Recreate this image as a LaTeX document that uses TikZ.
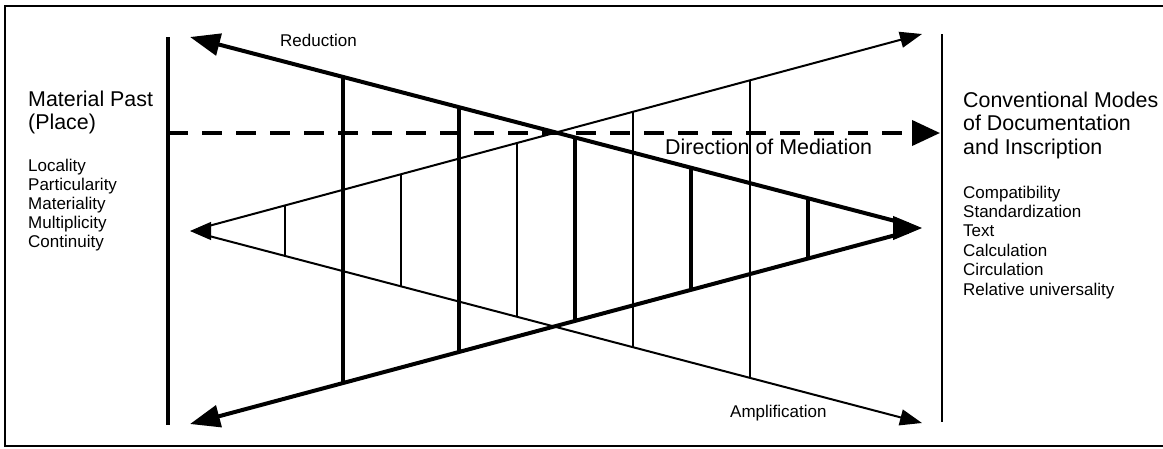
\documentclass[tikz,border=0pt]{standalone}
\usepackage{fontspec}
\setmainfont{Liberation Sans}
\usetikzlibrary{arrows.meta,calc}
\tikzset{
  frameline/.style={line width=2.4pt},
  thickline/.style={line width=4pt},
  thinline/.style={line width=2pt},
  bigtip/.style={-{Triangle[length=30pt,width=22pt]}},
  smalltip/.style={-{Triangle[length=22pt,width=16pt]}},
  dashline/.style={line width=4pt,dash pattern=on 20pt off 14pt},
  bigtext/.style={anchor=base west,inner sep=0pt,font=\fontsize{21.4}{23.5}\selectfont},
  listtext/.style={anchor=base west,inner sep=0pt,font=\fontsize{17}{19.3}\selectfont}
}
\begin{document}
\begin{tikzpicture}[x=1pt,y=-1pt]
\useasboundingbox (0,0) rectangle (1163,448);
% frame
\draw[frameline] (1163,6) -- (5,6) -- (5,446) -- (1163,446);
% key points
\coordinate (L1) at (190,37);
\coordinate (L2) at (190,424);
\coordinate (R0) at (922,228);
\coordinate (T0) at (190,231);
\coordinate (R1) at (922,34);
\coordinate (R2) at (922,423);
% side bars
\coordinate (lbTop) at (168,37);
\coordinate (lbBot) at (168,425);
\coordinate (rbTop) at (942,34);
\coordinate (rbBot) at (942,422);
\draw[line width=3.5pt] (lbTop) -- (lbBot);
\draw[line width=2pt] (rbTop) -- (rbBot);
% dashed direction of mediation
\coordinate (dS) at (168,133);
\coordinate (dE) at (940,133);
\draw[dashline] (dS) -- ($(dE)+(-20,0)$);
\coordinate (dH) at ($(dE)+(-24,0)$);
\draw[line width=4pt,-{Triangle[length=28pt,width=25pt]}] (dH) -- (dE);
% thick converging lines (reduction / amplification)
\draw[thickline,bigtip,shorten <=14pt] (R0) -- (L1);
\draw[thickline,bigtip,shorten <=14pt] (R0) -- (L2);
\coordinate (R0h) at ($(R0)+(-20,0)$);
\draw[line width=1pt,-{Triangle[length=29pt,width=24pt]}] (R0h) -- (R0);
% thin converging lines
\draw[thinline,smalltip,shorten <=10pt] (T0) -- (R1);
\draw[thinline,smalltip,shorten <=10pt] (T0) -- (R2);
\coordinate (T0h) at ($(T0)+(14,0)$);
\draw[line width=1pt,-{Triangle[length=21pt,width=18pt]}] (T0h) -- (T0);
% vertical rungs
\foreach \xx in {343,459,575,691,808}{
  \pgfmathsetmacro{\tt}{(\xx-190)/732}
  \draw[line width=3.5pt] ($(L1)!\tt!(R0)$) -- ($(L2)!\tt!(R0)$);
}
\foreach \xx in {285,401,517,633,750}{
  \pgfmathsetmacro{\tt}{(\xx-190)/732}
  \draw[line width=2pt] ($(T0)!\tt!(R1)$) -- ($(T0)!\tt!(R2)$);
}
% labels
\node[listtext] (red) at (280,46) {Reduction};
\node[listtext] (amp) at (730,417) {Amplification};
\node[bigtext] (dir) at (665,154) {Direction of Mediation};
\node[bigtext] (mp1) at (28,106) {Material Past};
\node[bigtext] (mp2) at (28,129.5) {(Place)};
\foreach \t [count=\i from 0] in {Locality,Particularity,Materiality,Multiplicity,Continuity}{
  \node[listtext] (mpl\i) at (28,171+19.2*\i) {\t};
}
\node[bigtext] (cm1) at (963,107) {Conventional Modes};
\node[bigtext] (cm2) at (963,130.5) {of Documentation};
\node[bigtext] (cm3) at (963,154) {and Inscription};
\foreach \t [count=\i from 0] in {Compatibility,Standardization,Text,Calculation,Circulation,Relative universality}{
  \node[listtext] (cml\i) at (963,198+19.4*\i) {\t};
}
\end{tikzpicture}
\end{document}
